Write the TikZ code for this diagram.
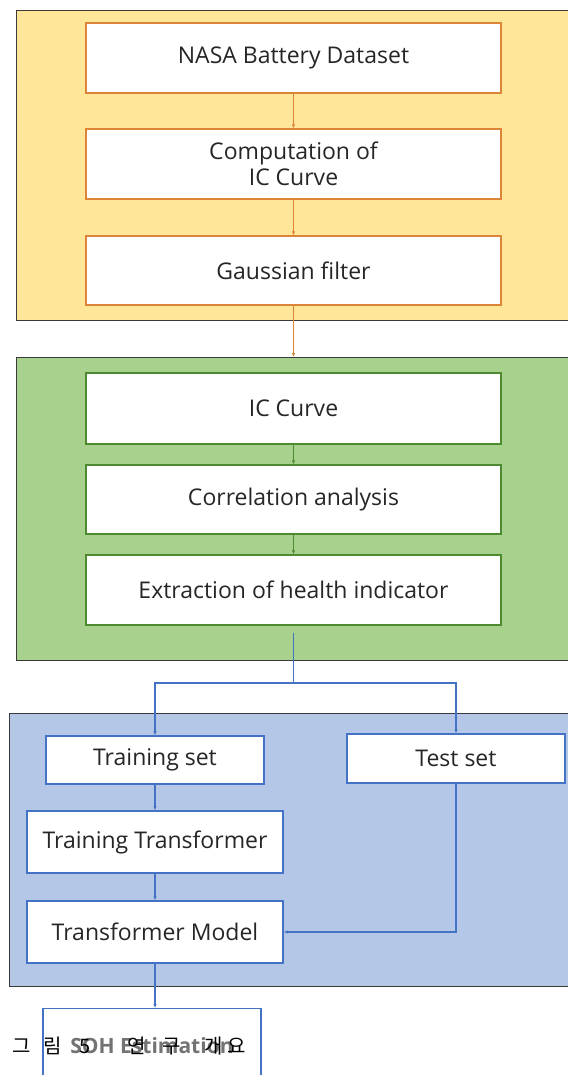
\documentclass[tikz,border=0pt]{standalone}
\usepackage{fontspec}
\setmainfont{Open Sans}
\newfontfamily\krfont{Noto Sans CJK KR}
\usetikzlibrary{arrows.meta}

\definecolor{panelY}{HTML}{FFE699}
\definecolor{panelG}{HTML}{A9D18E}
\definecolor{panelB}{HTML}{B4C7E7}
\definecolor{edgeY}{HTML}{DC8438}
\definecolor{edgeG}{HTML}{4E8A30}
\definecolor{edgeB}{HTML}{4472C4}
\definecolor{frame}{HTML}{3A3A3A}
\definecolor{ink}{HTML}{262626}

\tikzset{
  panel/.style={draw=frame, line width=1.2pt, rectangle, inner sep=0pt, anchor=north west},
  stage/.style={rectangle, fill=white, line width=1.4pt, inner sep=0pt,
    text=ink, font=\fontsize{23}{26}\selectfont, align=center},
  ystage/.style={stage, draw=edgeY, minimum width=415pt},
  gstage/.style={stage, draw=edgeG, minimum width=415pt},
  bstage/.style={stage, draw=edgeB},
  tip/.style={-{Latex[length=4pt,width=3.5pt]}},
  yflow/.style={tip, draw=edgeY, line width=1pt},
  gflow/.style={tip, draw=edgeG, line width=1pt},
  bflow/.style={draw=edgeB, line width=1.1pt},
  bflowar/.style={bflow, tip},
}

\begin{document}
\begin{tikzpicture}[x=1pt,y=-1pt]
\useasboundingbox (0,0) rectangle (567,1075);
\fill[white] (0,0) rectangle (567,1075);

% stage panels
\node[panel, fill=panelY, minimum width=580pt, minimum height=310pt] (py) at (16,10) {};
\node[panel, fill=panelG, minimum width=580pt, minimum height=303pt] (pg) at (16,357) {};
\node[panel, fill=panelB, minimum width=590pt, minimum height=273pt] (pb) at (9,713) {};

% data preparation
\node[ystage, minimum height=70pt] (nasa) at (293.5,58) {NASA Battery Dataset};
\node[ystage, minimum height=70pt] (comp) at (293.5,164) {Computation of\\IC Curve};
\node[ystage, minimum height=69pt] (gauss) at (293.5,270.5) {Gaussian filter};

% feature extraction
\node[gstage, minimum height=71pt] (ic) at (293.5,408.5) {IC Curve};
\node[gstage, minimum height=69pt] (corr) at (293.5,499.5) {Correlation analysis};
\node[gstage, minimum height=70pt] (extr) at (293.5,590) {Extraction of health indicator};

% model
\node[bstage, minimum width=218pt, minimum height=48pt] (train) at (155,760) {Training set};
\node[bstage, minimum width=218pt, minimum height=49pt] (test) at (456,758.5) {Test set};
\node[bstage, minimum width=256pt, minimum height=62pt] (tt) at (155,842) {Training Transformer};
\node[bstage, minimum width=256pt, minimum height=62pt] (tm) at (155,932) {Transformer Model};
\node[bstage, minimum width=218pt, minimum height=100pt, anchor=north] (soh) at (152,1008) {};
\node[font=\fontsize{21}{24}\selectfont\bfseries, text=black!55] (sohtext) at (152,1046) {SOH Estimation};

% connectors
\draw[yflow] (nasa) -- (comp);
\draw[yflow] (comp) -- (gauss);
\draw[yflow] (gauss.south) -- (gauss.south |- pg.north);
\draw[gflow] (ic) -- (corr);
\draw[gflow] (corr) -- (extr);
\coordinate (hstart) at ([yshift=-7pt]extr.south);
\coordinate (split) at (293.5,683);
\draw[bflow] (hstart) -- (split);
\draw[bflowar] (split) -| (train.north);
\draw[bflowar] (split) -| (test.north);
\draw[bflowar] (train) -- (tt);
\draw[bflowar] (tt) -- (tm);
\draw[bflowar] (test.south) |- (tm.east);
\draw[bflowar] (tm.south) -- (tm.south |- soh.north);

% caption
\node[anchor=west, inner sep=0pt, font=\krfont\fontsize{20}{22}\selectfont] (cap) at (12,1046)
  {그\hspace{13pt}림\hspace{17pt}5\hspace{37pt}연\hspace{17pt}구\hspace{24pt}개\hspace{4pt}요};
\end{tikzpicture}
\end{document}
